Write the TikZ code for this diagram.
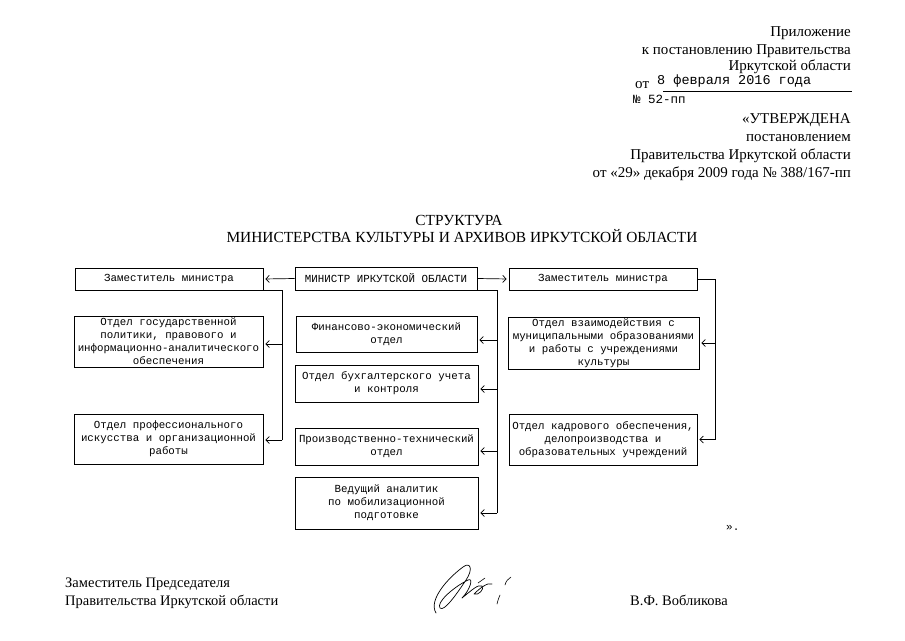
\documentclass[tikz,border=0pt]{standalone}
\usepackage{fontspec}
\setmainfont{Liberation Serif}
\setmonofont{Liberation Mono}
\usetikzlibrary{arrows.meta}
\begin{document}
\begin{tikzpicture}[x=1pt,y=-1pt,
  box/.style={draw, line width=0.7pt, inner sep=0pt, align=center, font=\ttfamily\fontsize{10.8}{13}\selectfont},
  conn/.style={line width=0.7pt},
  arr/.style={line width=0.7pt, -{Straight Barb[length=3.5pt,width=7pt]}, shorten >=2pt},
  serif/.style={font=\fontsize{14.5}{17}\selectfont, inner sep=0pt},
  head/.style={font=\fontsize{15}{17}\selectfont, inner sep=0pt},
  tt/.style={font=\ttfamily\fontsize{13.5}{15}\selectfont, inner sep=0pt},
]
\useasboundingbox (0,0) rectangle (905,640);
\fill[white] (0,0) rectangle (905,640);

% header
\node[head, anchor=base east] (h1) at (851,36) {Приложение};
\node[head, anchor=base east] (h2) at (851,54) {к постановлению Правительства};
\node[head, anchor=base east] (h3) at (851,70.5) {Иркутской области};
\node[head, anchor=base west] (ot) at (635,88) {от};
\node[tt, anchor=base west] (date) at (657,84) {8 февраля 2016 года};
\coordinate (ula) at (663,91);
\coordinate (ulb) at (852,91);
\draw[line width=0.8pt] (ula) -- (ulb);
\node[tt, anchor=base west, font=\ttfamily\fontsize{12.5}{14}\selectfont] (num) at (633,103) {№ 52-пп};
\node[head, anchor=base east] (u1) at (851,123) {«УТВЕРЖДЕНА};
\node[head, anchor=base east] (u2) at (851,141) {постановлением};
\node[head, anchor=base east] (u3) at (851,159) {Правительства Иркутской области};
\node[head, anchor=base east] (u4) at (851,177) {от «29» декабря 2009 года № 388/167-пп};

% title
\node[font=\fontsize{15.4}{18}\selectfont, inner sep=0pt, anchor=base] (t1) at (459,225) {СТРУКТУРА};
\node[font=\fontsize{15.4}{18}\selectfont, inner sep=0pt, anchor=base] (t2) at (462,242) {МИНИСТЕРСТВА КУЛЬТУРЫ И АРХИВОВ ИРКУТСКОЙ ОБЛАСТИ};

% boxes
\node[box, minimum width=188, minimum height=22] (dl) at (169,279) {Заместитель министра};
\node[box, minimum width=182, minimum height=23] (min) at (386,278.5) {МИНИСТР ИРКУТСКОЙ ОБЛАСТИ};
\node[box, minimum width=188, minimum height=22] (dr) at (603,279) {Заместитель министра};
\node[box, minimum width=189, minimum height=51] (l1) at (168.5,341.5) {Отдел государственной\\политики, правового и\\информационно-аналитического\\обеспечения};
\node[box, minimum width=189, minimum height=50] (l2) at (168.5,439) {Отдел профессионального\\искусства и организационной\\работы};
\node[box, minimum width=181, minimum height=36] (c1) at (386.5,334) {Финансово-экономический\\отдел};
\node[box, minimum width=183, minimum height=37] (c2) at (386.5,383.5) {Отдел бухгалтерского учета\\и контроля};
\node[box, minimum width=183, minimum height=37] (c3) at (386.5,446.5) {Производственно-технический\\отдел};
\node[box, minimum width=183, minimum height=52] (c4) at (386.5,503) {Ведущий аналитик\\по мобилизационной\\подготовке};
\node[box, minimum width=191, minimum height=52] (r1) at (603.5,343) {Отдел взаимодействия с\\муниципальными образованиями\\и работы с учреждениями\\культуры};
\node[box, minimum width=188, minimum height=51] (r2) at (603,439.5) {Отдел кадрового обеспечения,\\делопроизводства и\\образовательных учреждений};

% arrow anchor points
\coordinate (l1a) at ([yshift=-2.5pt]l1.east);
\coordinate (l2a) at ([yshift=-1pt]l2.east);
\coordinate (c1a) at ([yshift=-6pt]c1.east);
\coordinate (c2a) at ([yshift=-5.5pt]c2.east);
\coordinate (c3a) at ([yshift=-4.5pt]c3.east);
\coordinate (c4a) at ([yshift=-10pt]c4.east);
\coordinate (r1a) at (r1.east);
\coordinate (r2a) at (r2.east);

% connectors
\draw[arr] (min.west) -- (dl.east);
\draw[arr] (min.east) -- (dr.west);

\draw[conn] (dl.south east) -- ++(19,0) coordinate (lx) -- (lx |- l2a);
\draw[arr] (lx |- l1a) -- (l1a);
\draw[arr] (lx |- l2a) -- (l2a);

\draw[conn] (min.south east) -- ++(20,0) coordinate (cx) -- (cx |- c4a);
\draw[arr] (cx |- c1a) -- (c1a);
\draw[arr] (cx |- c2a) -- (c2a);
\draw[arr] (cx |- c3a) -- (c3a);
\draw[arr] (cx |- c4a) -- (c4a);

\draw[conn] (dr.east) -- ++(18,0) coordinate (rx) -- (rx |- r2a);
\draw[arr] (rx |- r1a) -- (r1a);
\draw[arr] (rx |- r2a) -- (r2a);

\node[font=\ttfamily\fontsize{11}{13}\selectfont, inner sep=0pt, anchor=base west] (endq) at (726,530) {».};

% signature block
\node[serif, anchor=base west] (s1) at (65,587) {Заместитель Председателя};
\node[serif, anchor=base west] (s2) at (65,605) {Правительства Иркутской области};
\node[serif, anchor=base west] (s3) at (630,605) {В.Ф. Вобликова};

% handwritten signature
\draw[line width=0.7pt, line cap=round, line join=round]
  (436,613) .. controls (428,600) and (448,578) .. (463,567)
  .. controls (471,561) and (473,570) .. (466,580)
  .. controls (456,595) and (444,612) .. (440,608)
  .. controls (436,603) and (452,588) .. (468,580)
  .. controls (474,577) and (470,590) .. (462,598)
  .. controls (472,590) and (478,584) .. (482,586)
  .. controls (485,589) and (478,596) .. (474,594)
  .. controls (480,588) and (488,582) .. (492,584);
\draw[line width=0.6pt, line cap=round] (478,583) -- (485,578);
\draw[line width=0.6pt, line cap=round] (505,585) .. controls (506,581) and (508,579) .. (511,577);
\draw[line width=0.6pt, line cap=round] (497,604) .. controls (498,600) and (499,597) .. (500,595);
\end{tikzpicture}
\end{document}
